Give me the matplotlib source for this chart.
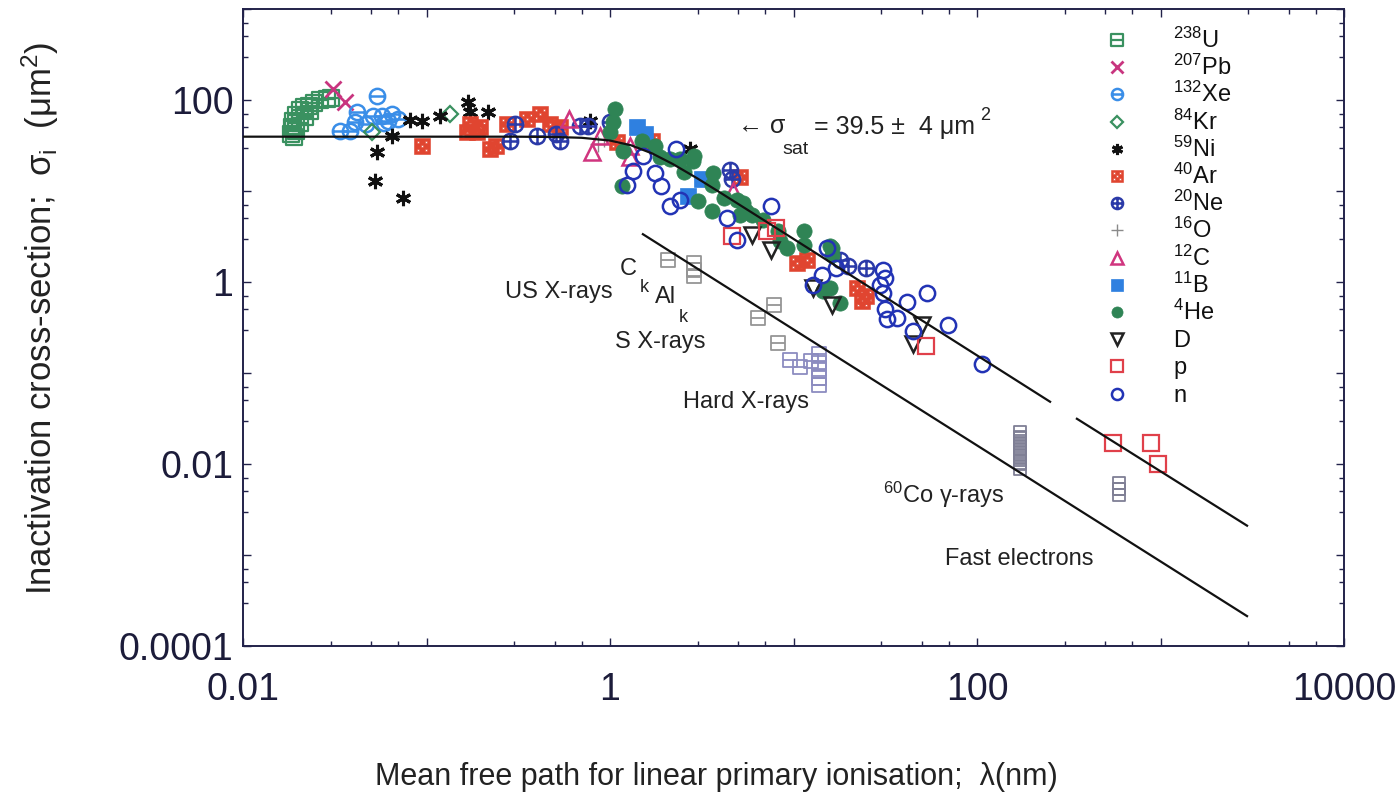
import numpy as np
import matplotlib
matplotlib.use("Agg")
import matplotlib.pyplot as plt
from matplotlib.path import Path
from matplotlib.ticker import FixedLocator, FuncFormatter, LogLocator, NullFormatter

plt.rcParams['font.family'] = ['Liberation Sans', 'DejaVu Sans']
plt.rcParams['mathtext.fontset'] = 'custom'
plt.rcParams['mathtext.rm'] = 'Liberation Sans'
plt.rcParams['mathtext.it'] = 'Liberation Sans:italic'
plt.rcParams['mathtext.bf'] = 'Liberation Sans:bold'

# ---------------- data (lambda in nm, sigma in um^2)
U_lam = [0.0183, 0.0185, 0.0187, 0.0194, 0.0205, 0.0215, 0.0229, 0.0244, 0.0263, 0.0287,
         0.030, 0.0194, 0.0205, 0.0218, 0.0232, 0.0190]
U_sig = [42.5, 50.7, 58.9, 68.6, 77.8, 83.8, 85.9, 92.7, 100, 102.6,
         105, 45.8, 56.1, 65.2, 75.8, 39.0]

Pb_lam = [0.0310, 0.0359]
Pb_sig = [132, 95]

Xe_lam = [0.0537, 0.0418, 0.0407, 0.0338, 0.0383, 0.051, 0.0571, 0.0649, 0.070, 0.059, 0.0468, 0.0618]
Xe_sig = [110.6, 74, 57.5, 45.8, 45.8, 66.8, 66.8, 70.3, 62, 56, 54.7, 59]

Kr_lam = [0.0505, 0.135]
Kr_sig = [44.7, 70.3]

Ni_lam = [0.0649, 0.0537, 0.0525, 0.0743, 0.0813, 0.0944, 0.118, 0.168, 0.172, 0.216, 0.78, 2.73]
Ni_sig = [40.4, 27, 13, 8.28, 60.5, 58.9, 66.8, 95, 74, 74, 59, 29.1]

Ar_lam = [0.0944, 0.172, 0.166, 0.196, 0.188, 0.222, 0.239, 0.275, 0.354, 0.415,
          0.47, 0.534, 1.09, 1.69, 5.11, 10.4, 22.3, 24.9, 23.6, 11.9]
Ar_sig = [31.4, 54.7, 44.7, 50.7, 44.7, 29.1, 31.4, 54.7, 62, 70.3,
          54.7, 50.7, 34.8, 35.7, 14.4, 1.61, 0.86, 0.71, 0.62, 1.74]

Ne_lam = [0.304, 0.284, 0.399, 0.51, 0.534, 0.686, 0.755, 1.0, 4.49, 4.62, 17.9, 19.8, 24.9]
Ne_sig = [54.7, 35.7, 40.4, 42.5, 35.7, 52, 52, 57.5, 16.8, 13.7, 1.74, 1.5, 1.42]

O_lam = [0.86, 0.93]
O_sig = [33, 37.5]

C_lam = [0.6, 0.798, 0.882, 1.29, 1.29, 4.66]
C_sig = [62, 27, 40.4, 31.4, 23.8, 10.1]

B_lam = [1.40, 1.55, 3.17, 2.65]
B_sig = [50.7, 42.5, 13.7, 8.7]

He_lam = [1.065, 1.04, 1.0, 1.50, 1.76, 1.87, 2.11, 2.41, 2.82, 2.52, 2.88, 3.65, 3.6, 3.0,
          3.6, 4.2, 4.9, 5.3, 5.5, 5.97, 5.1, 6.8, 8.4, 9.2, 8.2, 1.16, 1.18, 15.8, 16.3,
          11.4, 11.4, 16.1, 15.8, 17.9, 14.4]
He_sig = [79.7, 57.5, 44.7, 35.7, 31.4, 23.8, 22.6, 22.6, 21.6, 16.3, 24.5, 15.6, 11.5, 7.7,
          6.0, 8.28, 7.9, 7.3, 6.1, 5.4, 5.4, 4.8, 2.8, 2.35, 3.6, 11.2, 27.7, 2.46, 1.98,
          3.6, 2.53, 2.35, 0.86, 0.59, 0.8]

D_lam = [5.9, 7.5, 12.8, 16.3, 50.4, 44.6]
D_sig = [3.3, 2.24, 0.86, 0.56, 0.34, 0.21]

p_lam = [4.6, 7.2, 8.0, 52.5, 551, 887, 969]
p_sig = [3.2, 3.6, 3.9, 0.2, 0.017, 0.017, 0.0100]

n_lam = [1.24, 1.33, 1.51, 1.76, 1.90, 2.41, 2.11, 2.28, 4.35, 4.9, 7.5, 15.3, 14.2, 17.1,
         12.8, 30.8, 31.4, 29.6, 30.8, 41.4, 53.6, 31.4, 32.2, 36.6, 44.6, 69.4, 106]
n_sig = [11.5, 16.7, 24.5, 15.6, 11.2, 7.9, 6.8, 29.1, 5.0, 2.9, 6.9, 2.35, 1.2, 1.42,
         0.93, 1.34, 1.1, 0.93, 0.76, 0.6, 0.76, 0.50, 0.39, 0.40, 0.29, 0.34, 0.124]

# photon / electron data (not in legend)
xray_lam = [2.07, 2.88, 2.88, 2.88, 7.8, 6.4, 8.2]
xray_sig = [1.73, 1.62, 1.35, 1.16, 0.56, 0.40, 0.215]
hard_lam = [9.6, 10.8, 12.5, 13.8, 13.8, 13.8, 13.8, 13.8]
hard_sig = [0.14, 0.115, 0.137, 0.16, 0.13, 0.11, 0.089, 0.074]
co_lam = [171, 171, 171, 171, 171, 171, 171, 171, 171, 594, 594, 594]
co_sig = [0.0225, 0.02, 0.0178, 0.0158, 0.0141, 0.0125, 0.0111, 0.0099, 0.0088,
          0.0062, 0.0053, 0.0046]

# fitted curves
fit_lam = [0.01, 0.3, 0.5, 0.7, 1.0, 1.3, 1.7, 2.2, 3.0, 4.0, 6.0, 10, 30, 100, 250]
fit_sig = [39.5, 39.5, 39.2, 38.4, 35.8, 31.8, 25.8, 19.75, 13.7, 9.55, 5.70, 2.97, 0.728, 0.156, 0.0483]
fit2_lam = [350, 2960]
fit2_sig = [0.0314, 0.0021]
elec_lam = [1.51, 2960]
elec_sig = [3.35, 2.13e-4]

legend_labels = [r"$^{238}$U", r"$^{207}$Pb", r"$^{132}$Xe", r"$^{84}$Kr", r"$^{59}$Ni",
                 r"$^{40}$Ar", r"$^{20}$Ne", r"$^{16}$O", r"$^{12}$C", r"$^{11}$B",
                 r"$^{4}$He", "D", "p", "n"]

# ---------------- marker shapes
M, L, CL = Path.MOVETO, Path.LINETO, Path.CLOSEPOLY
sq_bar = Path([(-1, -1), (1, -1), (1, 1), (-1, 1), (-1, -1), (-1, 0), (1, 0)],
              [M, L, L, L, CL, M, L])
circ = Path.unit_circle()
circ_bar = Path.make_compound_path(circ, Path([(-1, 0), (1, 0)], [M, L]))
circ_plus = Path.make_compound_path(circ, Path([(-1, 0), (1, 0), (0, -1), (0, 1)], [M, L, M, L]))


def dice_square():
    verts = [(-1, -1), (1, -1), (1, 1), (-1, 1), (-1, -1)]
    codes = [M, L, L, L, CL]
    r = 0.16
    for cx, cy in [(-0.5, -0.5), (0.5, -0.5), (0, 0), (-0.5, 0.5), (0.5, 0.5)]:
        verts += [(cx - r, cy - r), (cx - r, cy + r), (cx + r, cy + r), (cx + r, cy - r), (cx - r, cy - r)]
        codes += [M, L, L, L, CL]
    return Path(verts, codes)


dice = dice_square()

green = '#3a9160'
series = [
    (U_lam, U_sig, dict(marker=sq_bar, mfc='none', mec=green, mew=1.6)),
    (Pb_lam, Pb_sig, dict(marker='x', mfc='none', mec='#c8357f', mew=2.0)),
    (Xe_lam, Xe_sig, dict(marker=circ_bar, mfc='none', mec='#3a8ee8', mew=1.8)),
    (Kr_lam, Kr_sig, dict(marker='D', mfc='none', mec=green, mew=1.6, ms_scale=0.75)),
    (Ni_lam, Ni_sig, dict(marker=(6, 2, 0), mfc='none', mec='#111111', mew=2.2)),
    (Ar_lam, Ar_sig, dict(marker=dice, mfc='#e04530', mec='#e04530', mew=0.4)),
    (Ne_lam, Ne_sig, dict(marker=circ_plus, mfc='none', mec='#2b3aa8', mew=1.8)),
    (O_lam, O_sig, dict(marker='+', mfc='none', mec='#8a8a8a', mew=1.0)),
    (C_lam, C_sig, dict(marker='^', mfc='none', mec='#d0357f', mew=1.8)),
    (B_lam, B_sig, dict(marker='s', mfc='#2f80e0', mec='#2f80e0', mew=0.5)),
    (He_lam, He_sig, dict(marker='o', mfc='#2f8455', mec='#2f8455', mew=0.5)),
    (D_lam, D_sig, dict(marker='v', mfc='none', mec='#222222', mew=1.8)),
    (p_lam, p_sig, dict(marker='s', mfc='none', mec='#e0404a', mew=1.6)),
    (n_lam, n_sig, dict(marker='o', mfc='none', mec='#2233b5', mew=1.8)),
]

fig = plt.figure(figsize=(13.96, 8), dpi=100)
ax = fig.add_axes([0.1741, 0.1925, 0.7887, 0.7963])
ax.set_xscale('log')
ax.set_yscale('log')

for lam, sig, st in series:
    st = dict(st)
    sc = st.pop('ms_scale', 1.0)
    ax.plot(lam, sig, ls='none', ms=11 * sc, zorder=2, **st)

ax.plot(xray_lam, xray_sig, ls='none', marker=sq_bar, ms=10, mfc='none', mec='#959595', mew=1.3, zorder=2)
ax.plot(hard_lam, hard_sig, ls='none', marker=sq_bar, ms=10, mfc='none', mec='#8c8cc0', mew=1.3, zorder=2)
ax.plot(co_lam, co_sig, ls='none', marker=sq_bar, ms=9, mfc='none', mec='#7f7f95', mew=1.3, zorder=2)

ax.plot(fit_lam, fit_sig, color='#111111', lw=1.6, zorder=3)
ax.plot(fit2_lam, fit2_sig, color='#111111', lw=1.6, zorder=3)
ax.plot(elec_lam, elec_sig, color='#111111', lw=1.6, zorder=3)

ax.set_xlim(0.01, 1e4)
ax.set_ylim(1e-4, 1e3)


def fmt(v, pos):
    e = int(round(np.log10(v)))
    if e % 2:
        return ''
    if e < 0:
        return '%.*f' % (-e, v)
    return '%d' % round(v)


ax.xaxis.set_major_locator(FixedLocator(10.0 ** np.arange(-2, 5)))
ax.yaxis.set_major_locator(FixedLocator(10.0 ** np.arange(-4, 4)))
ax.xaxis.set_major_formatter(FuncFormatter(fmt))
ax.yaxis.set_major_formatter(FuncFormatter(fmt))
ax.xaxis.set_minor_locator(LogLocator(base=10, subs=(3, 5, 7), numticks=50))
ax.yaxis.set_minor_locator(LogLocator(base=10, subs=(3, 5, 7), numticks=50))
ax.xaxis.set_minor_formatter(NullFormatter())
ax.yaxis.set_minor_formatter(NullFormatter())
ax.tick_params(which='both', direction='in', top=True, right=True, color='#22224a', width=1.0)
ax.tick_params(which='major', length=6, labelsize=27, labelcolor='#1c1c3a')
ax.tick_params(which='minor', length=3.5)
ax.tick_params(axis='x', pad=19)
ax.tick_params(axis='y', pad=7)
for s in ax.spines.values():
    s.set_color('#22224a')
    s.set_linewidth(1.4)

# legend drawn as a column of markers and labels
for i, (lab, (lam, sig, st)) in enumerate(zip(legend_labels, series)):
    st = dict(st)
    sc = st.pop('ms_scale', 1.0)
    py = 40 + 27.2 * i
    ay = (646 - py) / 637
    ax.plot([0.794], [ay], transform=ax.transAxes, ls='none', ms=8 * sc, clip_on=False, **st)
    ax.text(0.845, (646 - py - 8) / 637, lab, transform=ax.transAxes, fontsize=17,
            va='baseline', ha='left', color='#111111')

tc = '#222222'
ax.text(0.238, 0.546, "US X-rays", transform=ax.transAxes, fontsize=17, color=tc, va='baseline')
ax.text(0.342, 0.582, "C", transform=ax.transAxes, fontsize=17, color=tc, va='baseline')
ax.text(0.3606, 0.556, "k", transform=ax.transAxes, fontsize=13, color=tc, va='baseline')
ax.text(0.374, 0.538, "Al", transform=ax.transAxes, fontsize=17, color=tc, va='baseline')
ax.text(0.396, 0.509, "k", transform=ax.transAxes, fontsize=13, color=tc, va='baseline')
ax.text(0.338, 0.468, "S X-rays", transform=ax.transAxes, fontsize=17, color=tc, va='baseline')
ax.text(0.400, 0.374, "Hard X-rays", transform=ax.transAxes, fontsize=17, color=tc, va='baseline')
ax.text(0.581, 0.2245, r"$^{60}$Co $\mathrm{\gamma}$-rays", transform=ax.transAxes, fontsize=17,
        color=tc, va='baseline')
ax.text(0.6376, 0.127, "Fast electrons", transform=ax.transAxes, fontsize=17, color=tc, va='baseline')

ax.text(0.4496, 0.805, "\u2190 \u03c3", transform=ax.transAxes, fontsize=18, color=tc, va='baseline')
ax.text(0.490, 0.773, "sat", transform=ax.transAxes, fontsize=14, color=tc, va='baseline')
ax.text(0.519, 0.804, "= 39.5 \u00b1  4 \u03bcm", transform=ax.transAxes, fontsize=18, color=tc,
        va='baseline')
ax.text(0.669, 0.825, "2", transform=ax.transAxes, fontsize=13, color=tc, va='baseline')

fig.text(0.513, 0.029, "Mean free path for linear primary ionisation;  \u03bb(nm)", fontsize=22,
         ha='center', va='center', color=tc)
fig.text(0.0287, 0.6025, r"Inactivation cross-section;  $\mathrm{\sigma}_{\mathrm{i}}$  (μm$^2$)",
         fontsize=25, rotation=90, ha='center', va='center', color=tc)

fig.savefig('out.png', dpi=100)
